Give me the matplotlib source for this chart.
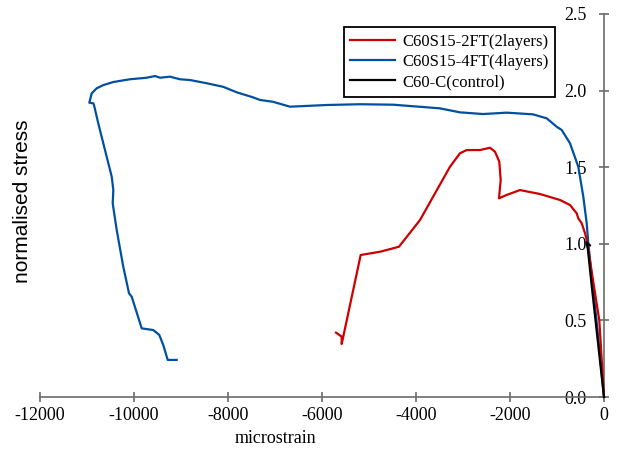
import matplotlib
matplotlib.use("Agg")
import matplotlib.pyplot as plt

plt.rcParams['font.family'] = ['Liberation Serif', 'DejaVu Serif']
plt.rcParams['axes.unicode_minus'] = False

# C60S15-2FT (2 layers)
red_x = [0, -100, -368, -404, -474, -547, -581, -723, -936, -1362, -1611, -1787,
         -2070, -2234, -2198, -2228, -2319, -2426, -2638, -2921, -3064, -3277,
         -3915, -4362, -4766, -5177, -5581, -5581, -5702]
red_y = [0, 0.50, 1.025, 1.069, 1.134, 1.166, 1.199, 1.253, 1.286, 1.325, 1.340, 1.351,
         1.319, 1.297, 1.416, 1.536, 1.601, 1.627, 1.612, 1.612, 1.591, 1.503,
         1.155, 0.981, 0.948, 0.927, 0.346, 0.394, 0.420]

# C60S15-4FT (4 layers)
blue_x = [0, -160, -334, -368, -440, -547, -723, -900, -1006, -1219, -1511, -2070,
          -2574, -3064, -3489, -3772, -4489, -5191, -5900, -6681, -7043, -7319,
          -7468, -7815, -8106, -8453, -8809, -9021, -9234, -9447, -9553, -9730,
          -10085, -10440, -10653, -10794, -10900, -10951, -10866, -10851, -10760,
          -10617, -10474, -10440, -10453, -10368, -10228, -10106, -10049, -9836,
          -9590, -9462, -9377, -9283, -9092]
blue_y = [0, 0.503, 1.003, 1.134, 1.307, 1.503, 1.656, 1.743, 1.764, 1.819, 1.845, 1.856,
          1.847, 1.858, 1.884, 1.891, 1.908, 1.911, 1.906, 1.895, 1.927, 1.939,
          1.956, 1.989, 2.025, 2.048, 2.069, 2.074, 2.091, 2.084, 2.095, 2.084,
          2.074, 2.056, 2.036, 2.015, 1.982, 1.921, 1.917, 1.906, 1.786,
          1.612, 1.438, 1.351, 1.264, 1.090, 0.850, 0.677, 0.655, 0.448,
          0.437, 0.405, 0.339, 0.242, 0.242]

# C60-C (control)
black_x = [0, -90, -180, -270, -345, -375, -300]
black_y = [0, 0.25, 0.50, 0.75, 0.97, 1.01, 0.99]

xticks = [-12000, -10000, -8000, -6000, -4000, -2000, 0]
yticks = [0.0, 0.5, 1.0, 1.5, 2.0, 2.5]

fig = plt.figure(figsize=(6.19, 4.5), dpi=100)
ax = fig.add_axes([40 / 619, 53 / 450, 564 / 619, 383 / 450])

ax.plot(red_x, red_y, color='#CC0000', lw=1.6, label='C60S15-2FT(2layers)', zorder=3, clip_on=False)
ax.plot(blue_x, blue_y, color='#0050A0', lw=1.6, label='C60S15-4FT(4layers)', zorder=2, clip_on=False)
ax.plot(black_x, black_y, color='black', lw=1.6, label='C60-C(control)', zorder=4, clip_on=False)

ax.set_xlim(-12000, 0)
ax.set_ylim(0, 2.5)
ax.set_xticks(xticks)
ax.set_yticks(yticks)
ax.set_yticklabels(['%.1f' % v for v in yticks])

ax.spines['top'].set_visible(False)
ax.spines['right'].set_visible(False)
ax.spines['left'].set_position(('data', 0))
for s in ('left', 'bottom'):
    ax.spines[s].set_color('#6b6b6b')
    ax.spines[s].set_linewidth(1.2)

ax.tick_params(axis='both', direction='inout', length=7, width=1.2, color='#6b6b6b',
               labelsize=13, labelcolor='black')
ax.tick_params(axis='y', pad=9)

ax.set_xlabel('microstrain', fontsize=13)
ax.xaxis.set_label_coords(0.418, -0.085)
ax.set_ylabel('normalised stress', fontsize=15, family=['Liberation Sans', 'DejaVu Sans'])
ax.yaxis.set_label_coords(-0.014, 0.51)

leg = ax.legend(loc='upper right', bbox_to_anchor=(0.913, 0.966), fontsize=12,
                fancybox=False, edgecolor='black', framealpha=1, handlelength=2.7,
                handletextpad=0.4, labelspacing=0.25, borderpad=0.4, borderaxespad=0)
leg.get_frame().set_linewidth(1.3)

fig.savefig('out.png', dpi=100)
